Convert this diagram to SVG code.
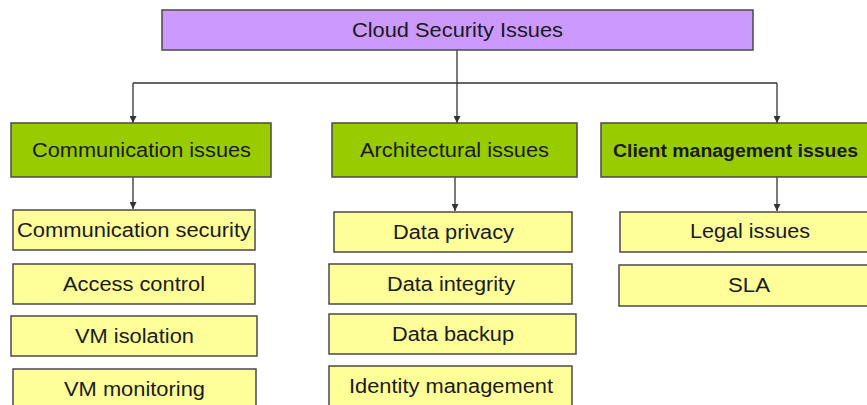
<svg xmlns="http://www.w3.org/2000/svg" width="867" height="405" viewBox="0 0 867 405">
<style>
.box{stroke:#4a4a4a;stroke-width:1.5}
.top{fill:#CC99FF}
.grn{fill:#99CC00}
.yel{fill:#FFFF99}
text{font-family:"Liberation Sans",Arial,sans-serif;font-size:19.5px;fill:#1a1a1a;text-anchor:middle}
.b{font-weight:bold;font-size:17.5px}
.ln{stroke:#333;stroke-width:1.3;fill:none}
</style>
<defs>
<marker id="ah" viewBox="0 0 8 8" refX="8" refY="4" markerWidth="7" markerHeight="7" markerUnits="userSpaceOnUse" orient="auto">
<path d="M0,0 L8,4 L0,8 z" fill="#333"/>
</marker>
</defs>
<rect width="867" height="405" fill="#fff"/>
<g id="connectors">
<path class="ln" d="M457,50 V83"/>
<path class="ln" d="M133,83 H777"/>
<path class="ln" d="M133,83 V123" marker-end="url(#ah)"/>
<path class="ln" d="M457,83 V123" marker-end="url(#ah)"/>
<path class="ln" d="M777,83 V123" marker-end="url(#ah)"/>
<path class="ln" d="M133,177 V209" marker-end="url(#ah)"/>
<path class="ln" d="M455,177 V211" marker-end="url(#ah)"/>
<path class="ln" d="M777,177 V211" marker-end="url(#ah)"/>
</g>
<g id="root"><rect class="box top" x="162" y="10" width="591" height="40"/><text x="457.5" y="37" textLength="211" lengthAdjust="spacingAndGlyphs">Cloud Security Issues</text></g>
<g id="comm"><rect class="box grn" x="11" y="123" width="260" height="54"/><text x="141.5" y="157" textLength="219" lengthAdjust="spacingAndGlyphs">Communication issues</text></g>
<g id="arch"><rect class="box grn" x="332" y="123" width="245" height="54"/><text x="454.5" y="157" textLength="189" lengthAdjust="spacingAndGlyphs">Architectural issues</text></g>
<g id="client"><rect class="box grn" x="601" y="123" width="270" height="54"/><text class="b" x="735.5" y="157" textLength="245" lengthAdjust="spacingAndGlyphs">Client management issues</text></g>
<g id="commsec"><rect class="box yel" x="13" y="210" width="242" height="40"/><text x="134" y="237" textLength="234" lengthAdjust="spacingAndGlyphs">Communication security</text></g>
<g id="access"><rect class="box yel" x="13" y="264" width="242" height="40"/><text x="134" y="291" textLength="142" lengthAdjust="spacingAndGlyphs">Access control</text></g>
<g id="vmiso"><rect class="box yel" x="11" y="316" width="246" height="40"/><text x="134.5" y="343" textLength="119" lengthAdjust="spacingAndGlyphs">VM isolation</text></g>
<g id="vmmon"><rect class="box yel" x="13" y="369" width="243" height="50"/><text x="134.5" y="396" textLength="141" lengthAdjust="spacingAndGlyphs">VM monitoring</text></g>
<g id="privacy"><rect class="box yel" x="334" y="212" width="238" height="40"/><text x="453.5" y="239" textLength="121" lengthAdjust="spacingAndGlyphs">Data privacy</text></g>
<g id="integrity"><rect class="box yel" x="329" y="264" width="243" height="40"/><text x="451" y="291" textLength="128" lengthAdjust="spacingAndGlyphs">Data integrity</text></g>
<g id="backup"><rect class="box yel" x="329" y="314" width="247" height="40"/><text x="453" y="341" textLength="122" lengthAdjust="spacingAndGlyphs">Data backup</text></g>
<g id="identity"><rect class="box yel" x="329" y="366" width="243" height="50"/><text x="451" y="393" textLength="204" lengthAdjust="spacingAndGlyphs">Identity management</text></g>
<g id="legal"><rect class="box yel" x="620" y="212" width="251" height="40"/><text x="750" y="238" textLength="120" lengthAdjust="spacingAndGlyphs">Legal issues</text></g>
<g id="sla"><rect class="box yel" x="619" y="265" width="252" height="41"/><text x="749" y="292" textLength="42" lengthAdjust="spacingAndGlyphs">SLA</text></g>
</svg>
